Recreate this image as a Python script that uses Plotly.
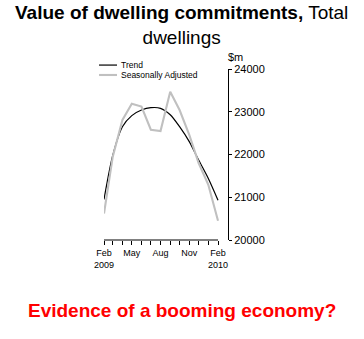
import plotly.graph_objects as go

# Monthly reference periods, Feb 2009 to Feb 2010
months = [
    "2009-02-01", "2009-03-01", "2009-04-01", "2009-05-01", "2009-06-01",
    "2009-07-01", "2009-08-01", "2009-09-01", "2009-10-01", "2009-11-01",
    "2009-12-01", "2010-01-01", "2010-02-01",
]

# Value of dwelling commitments, total dwellings ($m)
trend = [20950, 21980, 22650, 22910, 23040, 23095, 23080,
         22930, 22650, 22300, 21870, 21440, 20930]
seasonally_adjusted = [20620, 21950, 22810, 23190, 23120, 22580, 22550,
                       23470, 23040, 22460, 21800, 21290, 20450]

# Axis ticks: every month, labelled quarterly
tick_labels = ["Feb<br>2009", "", "", "May", "", "", "Aug", "", "", "Nov", "", "", "Feb<br>2010"]
y_ticks = [20000, 21000, 22000, 23000, 24000]

FONT = "Liberation Sans, Arial, sans-serif"
TREND_STYLE = dict(color="black", width=1.2)
SA_STYLE = dict(color="#c0c0c0", width=2.1)

fig = go.Figure()
fig.add_trace(go.Scatter(
    x=months, y=trend, name="Trend", mode="lines",
    line=dict(**TREND_STYLE, shape="spline", smoothing=0.8),
))
fig.add_trace(go.Scatter(
    x=months, y=seasonally_adjusted, name="Seasonally Adjusted", mode="lines",
    line=SA_STYLE,
))

# Horizontal axis baseline spanning only the reference period
fig.add_shape(type="line", xref="x", yref="paper",
              x0=months[0], x1=months[-1], y0=0, y1=0,
              line=dict(color="black", width=1))

# Compact legend drawn in the top-left corner of the plot
legend_items = [("Trend", TREND_STYLE, 1.023), ("Seasonally Adjusted", SA_STYLE, 0.965)]
annotations = []
for label, style, ly in legend_items:
    fig.add_shape(type="line", xref="paper", yref="paper",
                  x0=-0.04, x1=0.105, y0=ly, y1=ly, line=style)
    annotations.append(dict(text=label, xref="paper", yref="paper", x=0.117, y=ly,
                            xanchor="left", yanchor="middle", showarrow=False,
                            font=dict(size=8.5, family=FONT, color="black")))

annotations += [
    dict(text="<b>Value of dwelling commitments,</b> Total<br>dwellings",
         xref="paper", yref="paper", x=0.629, y=1.2587,
         xanchor="center", yanchor="middle", showarrow=False,
         font=dict(size=19, family=FONT, color="black")),
    dict(text="$m", xref="paper", yref="paper", x=1.06, y=1.07,
         xanchor="center", yanchor="middle", showarrow=False,
         font=dict(size=11, family=FONT, color="black")),
    dict(text="<b>Evidence of a booming economy?</b>",
         xref="paper", yref="paper", x=0.629, y=-0.4128,
         xanchor="center", yanchor="middle", showarrow=False,
         font=dict(size=19, family=FONT, color="red")),
]

fig.update_layout(
    width=364, height=339,
    margin=dict(l=104, r=136, t=69, b=99),
    paper_bgcolor="white", plot_bgcolor="white",
    font=dict(family=FONT, color="black"),
    showlegend=False,
    xaxis=dict(
        type="date",
        range=["2009-02-01", "2010-03-05"],
        tickvals=months, ticktext=tick_labels,
        ticks="outside", ticklen=4, tickcolor="black", tickwidth=1,
        showline=False, showgrid=False, zeroline=False,
        tickfont=dict(size=9, family=FONT), tickangle=0,
    ),
    yaxis=dict(
        side="right", range=[20000, 24000],
        tickvals=y_ticks, tickformat="d", ticks="outside", ticklen=3,
        tickcolor="black", showline=True, linecolor="black", linewidth=1,
        showgrid=False, zeroline=False,
        tickfont=dict(size=11, family=FONT),
    ),
    annotations=annotations,
)

fig.write_html("out.html")
